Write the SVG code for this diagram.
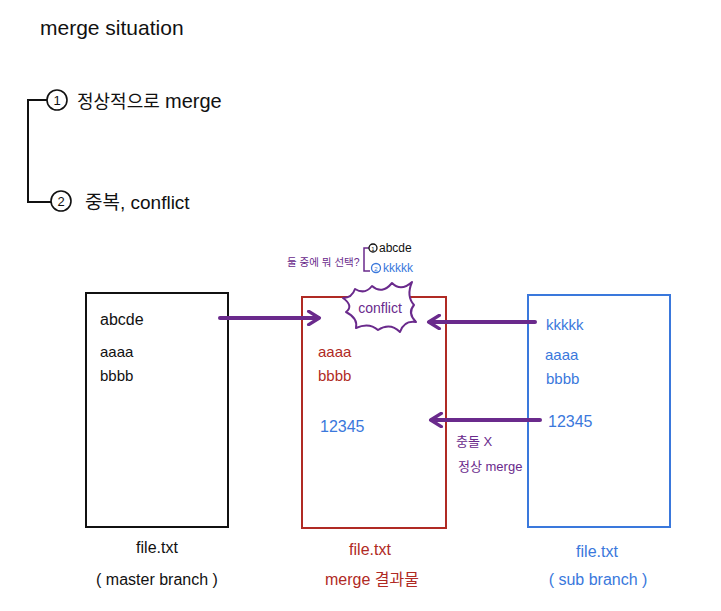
<svg xmlns="http://www.w3.org/2000/svg" width="721" height="611" viewBox="0 0 721 611">
<defs>
<style>
text{font-family:"Liberation Sans","Noto Sans CJK KR",sans-serif;}
.k{fill:#111;}
.r{fill:#b02a24;}
.b{fill:#3a78dc;}
.p{fill:#6a2a8c;}
.arr{stroke:#6a2a8c;stroke-width:4;fill:none;stroke-linecap:round;}
</style>
<marker id="ah" viewBox="0 0 12 12" refX="9" refY="6" markerWidth="4" markerHeight="4" orient="auto-start-reverse" markerUnits="strokeWidth">
<path d="M2 1 L10 6 L2 11" fill="none" stroke="#6a2a8c" stroke-width="2.5" stroke-linecap="round" stroke-linejoin="round"/>
</marker>
</defs>
<rect width="721" height="611" fill="#fff"/>
<g id="title">
<text class="k" x="40" y="35" font-size="21">merge situation</text>
</g>
<g id="list">
<path d="M47 100 H28 V202 H51" fill="none" stroke="#111" stroke-width="2"/>
<circle cx="57" cy="100" r="10" fill="none" stroke="#111" stroke-width="1.6"/>
<text class="k" x="57" y="105" font-size="13" text-anchor="middle">1</text>
<circle cx="61" cy="201" r="10" fill="none" stroke="#111" stroke-width="1.6"/>
<text class="k" x="61" y="206" font-size="13" text-anchor="middle">2</text>
<text class="k" x="77" y="108" font-size="18">정상적으로</text>
<text class="k" x="165" y="108" font-size="20">merge</text>
<text class="k" x="85" y="209" font-size="19">중복, conflict</text>
</g>
<g id="master">
<rect x="86" y="293" width="142" height="234" fill="none" stroke="#111" stroke-width="2"/>
<text class="k" x="100" y="325" font-size="16">abcde</text>
<text class="k" x="100" y="357" font-size="15">aaaa</text>
<text class="k" x="100" y="381" font-size="15">bbbb</text>
<text class="k" x="157" y="553" font-size="16" text-anchor="middle">file.txt</text>
<text class="k" x="157" y="585" font-size="16" text-anchor="middle">( master branch )</text>
</g>
<g id="result">
<rect x="302" y="297" width="144" height="231" fill="none" stroke="#b02a24" stroke-width="2"/>
<text class="r" x="318" y="357" font-size="15">aaaa</text>
<text class="r" x="318" y="381" font-size="15">bbbb</text>
<text class="b" x="320" y="432" font-size="16">12345</text>
<text class="r" x="370" y="555" font-size="16" text-anchor="middle">file.txt</text>
<text class="r" x="372" y="585" font-size="16" text-anchor="middle">merge 결과물</text>
</g>
<g id="sub">
<rect x="528" y="295" width="142" height="232" fill="none" stroke="#3a78dc" stroke-width="2"/>
<text class="b" x="546" y="330" font-size="15">kkkkk</text>
<text class="b" x="545" y="360" font-size="15">aaaa</text>
<text class="b" x="546" y="384" font-size="15">bbbb</text>
<text class="b" x="548" y="427" font-size="16">12345</text>
<text class="b" x="597" y="557" font-size="16" text-anchor="middle">file.txt</text>
<text class="b" x="598" y="585" font-size="16" text-anchor="middle">( sub  branch )</text>
</g>
<g id="conflict">
<path d="M355 289 Q365 295 372 286 Q382 295 392 283 Q401 292 412 282 Q406 296 414 305 Q407 313 416 322 Q404 320 400 332 Q390 322 378 330 Q369 322 356 328 Q358 318 346 312 Q354 306 343 298 Q352 298 355 289 Z" fill="#fff" stroke="#6a2a8c" stroke-width="2" stroke-linejoin="round"/>
<text class="p" x="380" y="313" font-size="14" text-anchor="middle">conflict</text>
</g>
<g id="choice">
<path d="M369 248 H364 V271 H370" fill="none" stroke="#6a2a8c" stroke-width="1.5"/>
<circle cx="373" cy="248" r="4" fill="none" stroke="#111" stroke-width="1.3"/>
<text class="k" x="373" y="250.5" font-size="6" text-anchor="middle">1</text>
<text class="k" x="379" y="252" font-size="12">abcde</text>
<circle cx="376" cy="268" r="4.5" fill="none" stroke="#3a78dc" stroke-width="1.3"/>
<text class="b" x="376" y="270.5" font-size="6" text-anchor="middle">2</text>
<text class="b" x="383" y="272" font-size="12">kkkkk</text>
<text class="p" x="287" y="266" font-size="10.5">둘 중에 뭐 선택?</text>
</g>
<g id="notes">
<text class="p" x="456" y="446" font-size="13">충돌 X</text>
<text class="p" x="458" y="471" font-size="13">정상 merge</text>
</g>
<g id="connectors">
<line class="arr" x1="220" y1="318" x2="318" y2="318" marker-end="url(#ah)"/>
<line class="arr" x1="535" y1="322" x2="430" y2="322" marker-end="url(#ah)"/>
<line class="arr" x1="540" y1="420" x2="432" y2="420" marker-end="url(#ah)"/>
</g>
</svg>
